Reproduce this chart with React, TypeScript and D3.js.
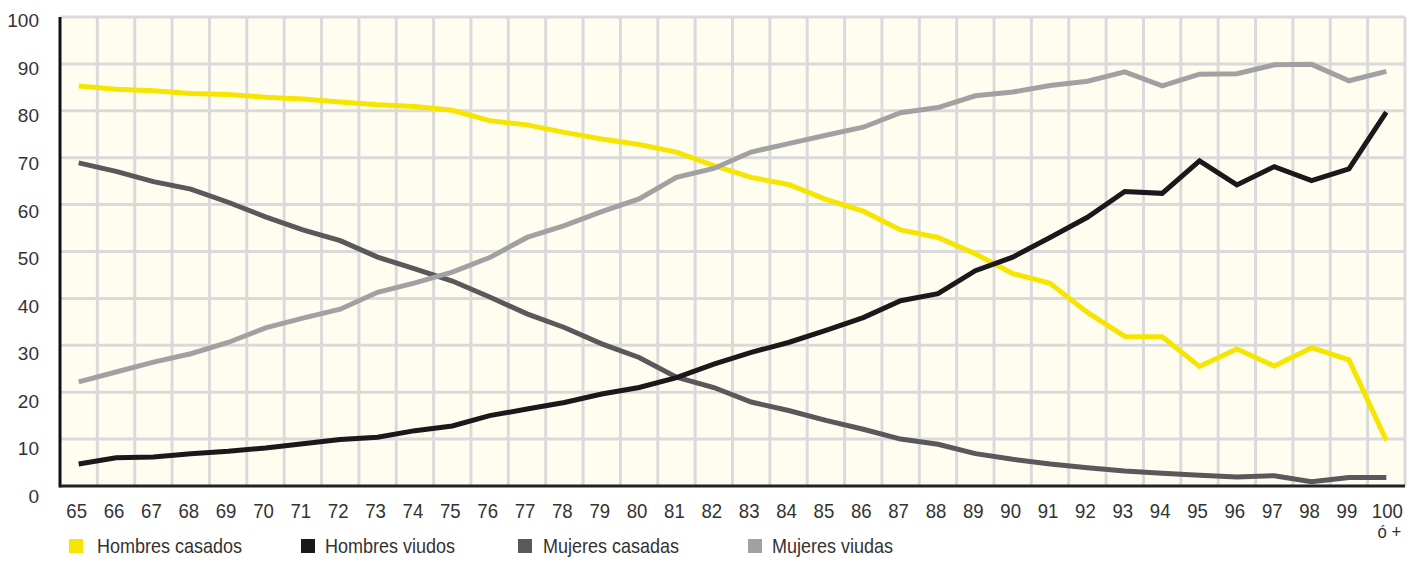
import React from "react";
import * as d3 from "d3";

const ages = ["65","66","67","68","69","70","71","72","73","74","75","76","77","78","79","80","81","82","83","84","85","86","87","88","89","90","91","92","93","94","95","96","97","98","99","100"];
const lastAgeSub = "ó +";
const yTicks = [0, 10, 20, 30, 40, 50, 60, 70, 80, 90, 100];

const hombresCasados = [85.3, 84.6, 84.3, 83.7, 83.5, 82.9, 82.5, 81.9, 81.3, 80.9, 80.1, 77.9, 77.0, 75.4, 74.0, 72.8, 71.2, 68.3, 65.8, 64.3, 61.1, 58.6, 54.6, 53.0, 49.5, 45.3, 43.2, 37.0, 31.9, 31.8, 25.5, 29.2, 25.6, 29.5, 26.9, 9.7];
const hombresViudos = [4.7, 6.0, 6.2, 6.9, 7.4, 8.1, 9.0, 9.9, 10.4, 11.8, 12.8, 15.0, 16.4, 17.8, 19.6, 21.0, 23.1, 26.0, 28.5, 30.6, 33.2, 35.9, 39.5, 41.0, 45.9, 48.8, 53.0, 57.3, 62.8, 62.4, 69.3, 64.2, 68.1, 65.1, 67.6, 79.7];
const mujeresCasadas = [68.9, 67.1, 64.9, 63.3, 60.5, 57.4, 54.6, 52.3, 48.8, 46.3, 43.7, 40.3, 36.7, 33.8, 30.3, 27.4, 23.2, 21.0, 17.9, 16.1, 14.0, 12.1, 10.0, 8.9, 6.9, 5.7, 4.7, 3.9, 3.2, 2.7, 2.3, 1.9, 2.2, 0.9, 1.8, 1.8];
const mujeresViudas = [22.2, 24.3, 26.4, 28.2, 30.6, 33.7, 35.8, 37.7, 41.3, 43.3, 45.6, 48.7, 53.0, 55.5, 58.5, 61.2, 65.8, 67.7, 71.2, 73.0, 74.8, 76.5, 79.6, 80.7, 83.2, 84.0, 85.4, 86.3, 88.3, 85.3, 87.8, 87.9, 89.8, 89.9, 86.4, 88.4];

const seriesNames = ["Hombres casados", "Hombres viudos", "Mujeres casadas", "Mujeres viudas"];
const seriesValues = [hombresCasados, hombresViudos, mujeresCasadas, mujeresViudas];
const seriesColors = ["#f6e500", "#1b181c", "#59585b", "#a1a1a3"];
const drawOrder = [0, 2, 3, 1];

const W = 1420, H = 561;
const FONT = "'Liberation Sans', Arial, sans-serif";
const TEXT = "#333";

function CText({ x, y, sx = 1, anchor = "start", size = 20, children }: any) {
  return (
    <text transform={`translate(${x},${y}) scale(${sx},1)`} textAnchor={anchor}
      fontFamily={FONT} fontSize={size} fill={TEXT}>{children}</text>
  );
}

export default function App() {
  const left = 60, right = 1405, top = 17, bottom = 486;
  const x = d3.scaleBand<string>().domain(ages).range([left, right]).padding(0);
  const y = d3.scaleLinear().domain([0, 100]).range([bottom, top]);
  const yLab = d3.scaleLinear().domain([0, 100]).range([496, 20.5]);
  const cx = (i: number) => (x(ages[i]) as number) + x.bandwidth() / 2;
  const line = d3.line<number>().x((_, i) => cx(i)).y((d) => y(d));

  const legendX = [69, 301, 518, 748];
  const legendTX = [97, 325, 543, 772];

  return (
    <svg width={W} height={H} style={{ position: "absolute", left: 0, top: 0, background: "#fff" }}>
      <rect x={left} y={top} width={right - left} height={bottom - top} fill="#fffdf0" />
      {yTicks.filter((t) => t > 0).map((t) => (
        <line key={"h" + t} x1={left} x2={right} y1={y(t)} y2={y(t)} stroke="#dadada" strokeWidth={3} />
      ))}
      {ages.map((a) => (
        <line key={"v" + a} x1={(x(a) as number) + x.bandwidth()} x2={(x(a) as number) + x.bandwidth()}
          y1={top} y2={bottom} stroke="#dadada" strokeWidth={3} />
      ))}
      {drawOrder.map((s) => (
        <path key={seriesNames[s]} d={line(seriesValues[s]) as string} fill="none"
          stroke={seriesColors[s]} strokeWidth={5} strokeLinejoin="miter" />
      ))}
      <line x1={left} x2={left} y1={top} y2={bottom + 1.5} stroke="#111" strokeWidth={3} />
      <line x1={left} x2={right} y1={bottom} y2={bottom} stroke="#222" strokeWidth={3} />
      {yTicks.map((t) => (
        <text key={"yl" + t} x={39} y={yLab(t)} dy="0.36em" textAnchor="end"
          fontFamily={FONT} fontSize={19} fill={TEXT}>{t}</text>
      ))}
      {ages.map((a, i) => (
        <CText key={"xl" + a} x={i === ages.length - 1 ? cx(i) + 1 : cx(i) - 2} y={518} sx={0.93} anchor="middle">{a}</CText>
      ))}
      <CText x={cx(ages.length - 1) + 3} y={538} sx={0.93} anchor="middle" size={18}>{lastAgeSub}</CText>
      {seriesNames.map((n, i) => (
        <g key={"lg" + n}>
          <rect x={legendX[i]} y={539} width={14} height={14} fill={seriesColors[i]} />
          <CText x={legendTX[i]} y={553} sx={0.9}>{n}</CText>
        </g>
      ))}
    </svg>
  );
}
